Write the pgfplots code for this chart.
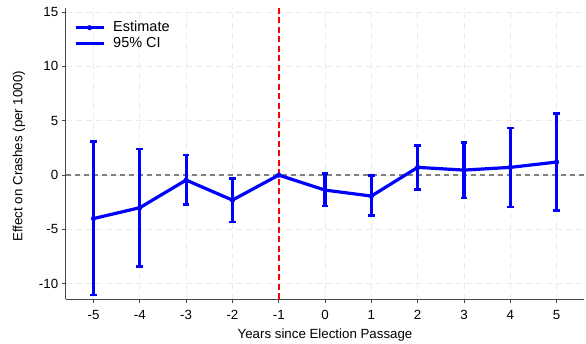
\documentclass[border=0pt]{standalone}
\usepackage{fontspec}
\setmainfont{Liberation Sans}
\usepackage{pgfplots}
\usepackage{pgfplotstable}
\pgfplotsset{compat=1.18}

\definecolor{gridgray}{RGB}{234,234,234}
\definecolor{zerogray}{RGB}{128,128,128}
\definecolor{axisgray}{RGB}{70,70,70}
\definecolor{estblue}{RGB}{0,0,255}

% Event-study point estimates
\pgfplotstableread{
x   est
-5  -4.00
-4  -3.00
-3  -0.46
-2  -2.30
-1   0.00
0   -1.38
1   -1.93
2    0.71
3    0.46
4    0.71
5    1.20
}\esttab

% 95% confidence bounds (reference year -1 omitted)
\pgfplotstableread{
x   est    lo      hi
-5  -4.00  -11.04  3.07
-4  -3.00  -8.43   2.39
-3  -0.46  -2.70   1.84
-2  -2.30  -4.32  -0.31
0   -1.38  -2.85   0.15
1   -1.93  -3.74  -0.06
2    0.71  -1.32   2.70
3    0.46  -2.12   3.00
4    0.71  -2.94   4.35
5    1.20  -3.25   5.68
}\citab

\begin{document}
\begin{tikzpicture}
\begin{axis}[
  at={(0pt,0pt)}, anchor=south west,
  scale only axis,
  width=518.7pt, height=291.3pt,
  xmin=-5.6, xmax=5.6,
  ymin=-11.4, ymax=15.4,
  axis x line=bottom, axis y line=left,
  axis line style={-, draw=axisgray, line width=0.9pt},
  xtick={-5,...,5},
  ytick={-10,-5,0,5,10,15},
  tick align=outside,
  major tick length=4pt,
  tick style={draw=axisgray, line width=0.9pt},
  /pgf/number format/assume math mode=true,
  ticklabel style={font=\fontsize{13.3}{15}\selectfont, text=black},
  xticklabel style={yshift=-3.5pt},
  grid=major,
  major grid style={draw=gridgray, line width=0.9pt, dash pattern=on 6pt off 4pt},
  xlabel={Years since Election Passage},
  ylabel={Effect on Crashes (per 1000)},
  label style={font=\fontsize{13.3}{16}\selectfont},
  xlabel style={at={(axis description cs:0.5,-0.137)}, anchor=base},
  ylabel style={at={(axis description cs:-0.0835,0.49)}, anchor=base, rotate=0},
  legend cell align=left,
  legend image code/.code={%
    \draw[mark repeat=2, mark phase=2, #1]
      plot coordinates {(0pt,0pt) (14pt,0pt) (28pt,0pt)};},
  legend style={
    draw=none, fill=none,
    at={(axis description cs:0,1)}, anchor=north west,
    xshift=8.3pt, yshift=-12.5pt,
    inner sep=0pt, outer sep=0pt,
    font=\fontsize{14.5}{17}\selectfont,
    nodes={inner sep=1pt, text height=10pt, text depth=3pt},
    row sep=1pt,
    column sep=7pt,
  },
]
% reference lines
\addplot[forget plot, draw=zerogray, line width=1.8pt, dash pattern=on 5pt off 4pt]
  coordinates {(-5.6,0) (5.6,0)};
\addplot[forget plot, draw=red, line width=1.8pt, dash pattern=on 6pt off 3.5pt]
  coordinates {(-1,-11.4) (-1,15.4)};

% confidence intervals with caps
\addplot[forget plot, draw=none, mark=none,
  error bars/.cd, y dir=both, y explicit,
  error bar style={draw=estblue, solid, line width=3.2pt},
  error mark options={draw=estblue, fill=estblue, rotate=90, mark size=3.3pt, line width=2.6pt}]
  table[x=x, y=est,
        y error plus expr=\thisrow{hi}-\thisrow{est},
        y error minus expr=\thisrow{est}-\thisrow{lo}] {\citab};

% point estimates
\addplot[forget plot, draw=estblue, line width=3.2pt, line join=round,
  mark=*, mark size=2.3pt, mark options={fill=estblue, draw=estblue, line width=0.5pt}]
  table[x=x, y=est] {\esttab};

\addlegendimage{draw=estblue, line width=3.2pt, mark=*, mark size=2.3pt,
  mark options={fill=estblue, draw=estblue, line width=0.5pt}}
\addlegendentry{Estimate}
\addlegendimage{draw=estblue, line width=3.2pt}
\addlegendentry{95\% CI}
\end{axis}
\pgfresetboundingbox
\path[use as bounding box] (-65.7pt,-44pt) rectangle (520.3pt,299pt);
\end{tikzpicture}
\end{document}
